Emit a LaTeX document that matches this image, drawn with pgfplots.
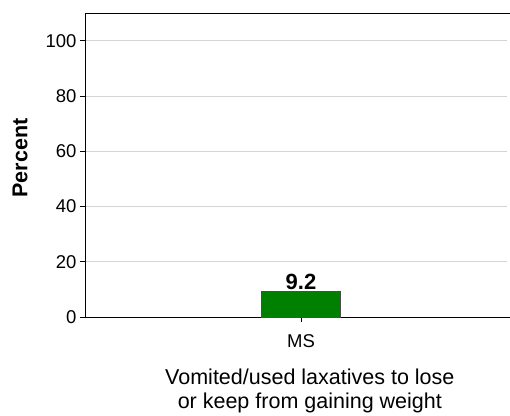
\documentclass[border=0pt]{standalone}
\usepackage{pgfplots}
\pgfplotsset{compat=1.18}
\usepackage{fontspec}
\setmainfont{Liberation Sans}
\definecolor{barg}{HTML}{008000}
\definecolor{gridg}{HTML}{D4D4D4}
\begin{document}
\begin{tikzpicture}
\begin{axis}[
  scale only axis,
  width=425pt, height=304pt,
  xmin=-1, xmax=0.9676,
  ymin=0, ymax=110,
  axis lines*=left,
  xtick={0}, xticklabels={MS},
  ytick={0,20,40,60,80,100},
  ymajorgrids,
  grid style={gridg, line width=0.8pt},
  axis line style={black, line width=0.8pt},
  tick style={black, line width=0.8pt},
  tick align=outside,
  major tick length=5pt,
  xtick pos=bottom, ytick pos=left,
  /pgf/number format/assume math mode=true,
  tick label style={font=\fontsize{18.5}{20}\selectfont},
  xticklabel style={yshift=-9pt},
  ylabel={\textbf{Percent}},
  ylabel style={font=\fontsize{21.5}{24}\selectfont, at={(axis description cs:-0.153,0.523)}, anchor=center, rotate=0},
  xlabel={Vomited/used laxatives to lose\\or keep from gaining weight},
  xlabel style={font=\fontsize{21.5}{24}\selectfont, align=center, at={(axis description cs:0.529,-0.243)}, anchor=center},
  nodes near coords,
  nodes near coords style={font=\fontsize{22}{24}\selectfont\bfseries, /pgf/number format/fixed, /pgf/number format/precision=1},
  every node near coord/.append style={anchor=south, yshift=-2pt},
]
\addplot[ybar, bar width=79pt, fill=barg, draw=black!70, line width=0.6pt] coordinates {(0,9.2)};
\end{axis}
\fill[white] (422pt,0.45pt) rectangle (432pt,303.55pt);
\draw[black, line width=0.8pt] (0pt,304pt) -- (430pt,304pt);
\pgfresetboundingbox
\path[use as bounding box] (-85pt,-98pt) rectangle (425pt,317pt);
\end{tikzpicture}
\end{document}
